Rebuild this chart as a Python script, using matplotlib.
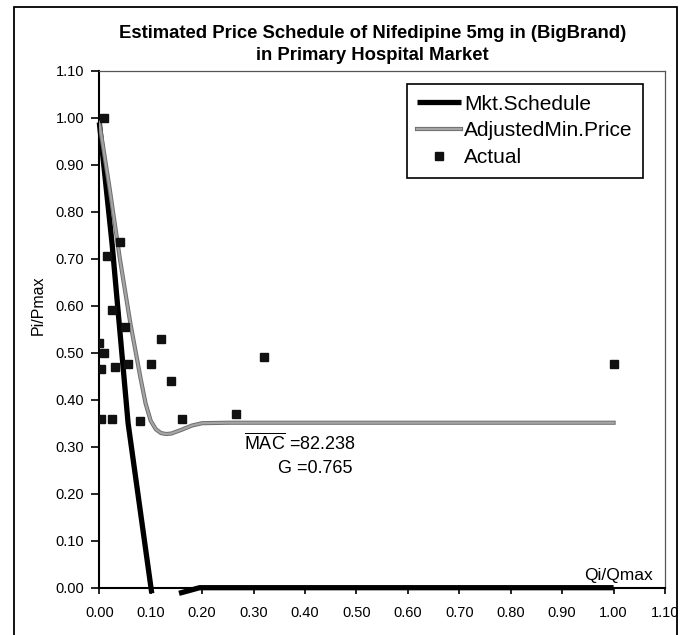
import numpy as np
import matplotlib
matplotlib.use("Agg")
import matplotlib.pyplot as plt
import matplotlib.patheffects as pe
from matplotlib.patches import Rectangle

plt.rcParams['font.family'] = ['Liberation Sans', 'DejaVu Sans']
plt.rcParams['mathtext.fontset'] = 'custom'
plt.rcParams['mathtext.rm'] = 'Liberation Sans'

# Market price schedule (NaN breaks the part that dips below the axis)
mkt_x = [0.00, 0.025, 0.056, 0.102, np.nan, 0.155, 0.195, 1.00]
mkt_y = [0.99, 0.73, 0.35, -0.012, np.nan, -0.012, 0.0, 0.0]

# Adjusted minimum price curve
adj_x = [0.00, 0.02, 0.04, 0.06, 0.08, 0.09, 0.10, 0.11, 0.12, 0.13, 0.14,
         0.16, 0.18, 0.20, 0.25, 1.00]
adj_y = [0.99, 0.85, 0.70, 0.565, 0.447, 0.392, 0.355, 0.337, 0.329, 0.327,
         0.328, 0.336, 0.345, 0.350, 0.351, 0.351]

# Observed prices
act_x = [0.01, 0.04, 0.015, 0.025, 0.05, 0.12, 0.0, 0.01, 0.003, 0.03,
         0.055, 0.10, 0.14, 0.003, 0.025, 0.08, 0.16, 0.265, 0.32, 1.00]
act_y = [1.00, 0.735, 0.705, 0.59, 0.555, 0.53, 0.52, 0.50, 0.465, 0.47,
         0.475, 0.475, 0.44, 0.36, 0.36, 0.355, 0.36, 0.37, 0.49, 0.475]

ticks = np.round(np.arange(0, 1.11, 0.1), 2)

W, H = 683, 635
fig = plt.figure(figsize=(W / 100, H / 100), dpi=100)
ax = fig.add_axes([99.3 / W, 1 - 587.7 / H, (665 - 99.3) / W, (587.7 - 70.7) / H])

# outer chart border
fig.patches.append(Rectangle((14 / W, -0.05), (677 - 14) / W, 1.05 - 7 / H,
                             transform=fig.transFigure, fill=False,
                             edgecolor='black', linewidth=1.3))

ax.plot(mkt_x, mkt_y, color='black', linewidth=3.8, clip_on=False,
        solid_capstyle='butt', label='Mkt.Schedule', zorder=3)
ax.plot(adj_x, adj_y, color='#a5a5a5', linewidth=1.6,
        path_effects=[pe.Stroke(linewidth=3.0, foreground='#6e6e6e'), pe.Normal()],
        label='AdjustedMin.Price', zorder=3)
ax.plot(act_x, act_y, linestyle='none', marker='s', markersize=6.2,
        color='#111111', label='Actual', zorder=4)

ax.set_xlim(0, 1.10)
ax.set_ylim(0, 1.10)
ax.set_xticks(ticks)
ax.set_yticks(ticks)
ax.set_xticklabels([f"{t:.2f}" for t in ticks], fontsize=10.5)
ax.set_yticklabels([f"{t:.2f}" for t in ticks], fontsize=10.5)
ax.tick_params(axis='y', direction='out', length=6, width=1.2, pad=5)
ax.tick_params(axis='x', direction='out', length=4.5, width=1.2, pad=9)

for s in ['left', 'bottom']:
    ax.spines[s].set_linewidth(1.5)
    ax.spines[s].set_color('black')
for s in ['top', 'right']:
    ax.spines[s].set_linewidth(0.9)
    ax.spines[s].set_color('#555555')

leg = ax.legend(loc='upper right', bbox_to_anchor=(0.961, 0.974), fontsize=15,
                frameon=True, fancybox=False, edgecolor='black', framealpha=1,
                handlelength=2.1, handletextpad=0.15, labelspacing=0.38,
                borderpad=0.5, borderaxespad=0, numpoints=1)
leg.get_frame().set_linewidth(1.2)

ax.text(0.281, 0.308, r"$\overline{\mathrm{MAC}}$ =82.238", fontsize=13,
        ha='left', va='center')
ax.text(0.347, 0.254, "G =0.765", fontsize=13, ha='left', va='center')

ax.text(0.979, 0.01, "Qi/Qmax", transform=ax.transAxes, fontsize=12.5,
        ha='right', va='bottom')
fig.text(38 / W, 1 - 305 / H, "Pi/Pmax", rotation=90, fontsize=11.5,
         ha='center', va='center')

fig.text(373 / W, 1 - 33 / H, "Estimated Price Schedule of Nifedipine 5mg in (BigBrand)",
         fontsize=13.3, fontweight='bold', ha='center', va='center')
fig.text(372 / W, 1 - 56 / H, "in Primary Hospital Market",
         fontsize=13.3, fontweight='bold', ha='center', va='center')

fig.savefig("out.png", dpi=100)
